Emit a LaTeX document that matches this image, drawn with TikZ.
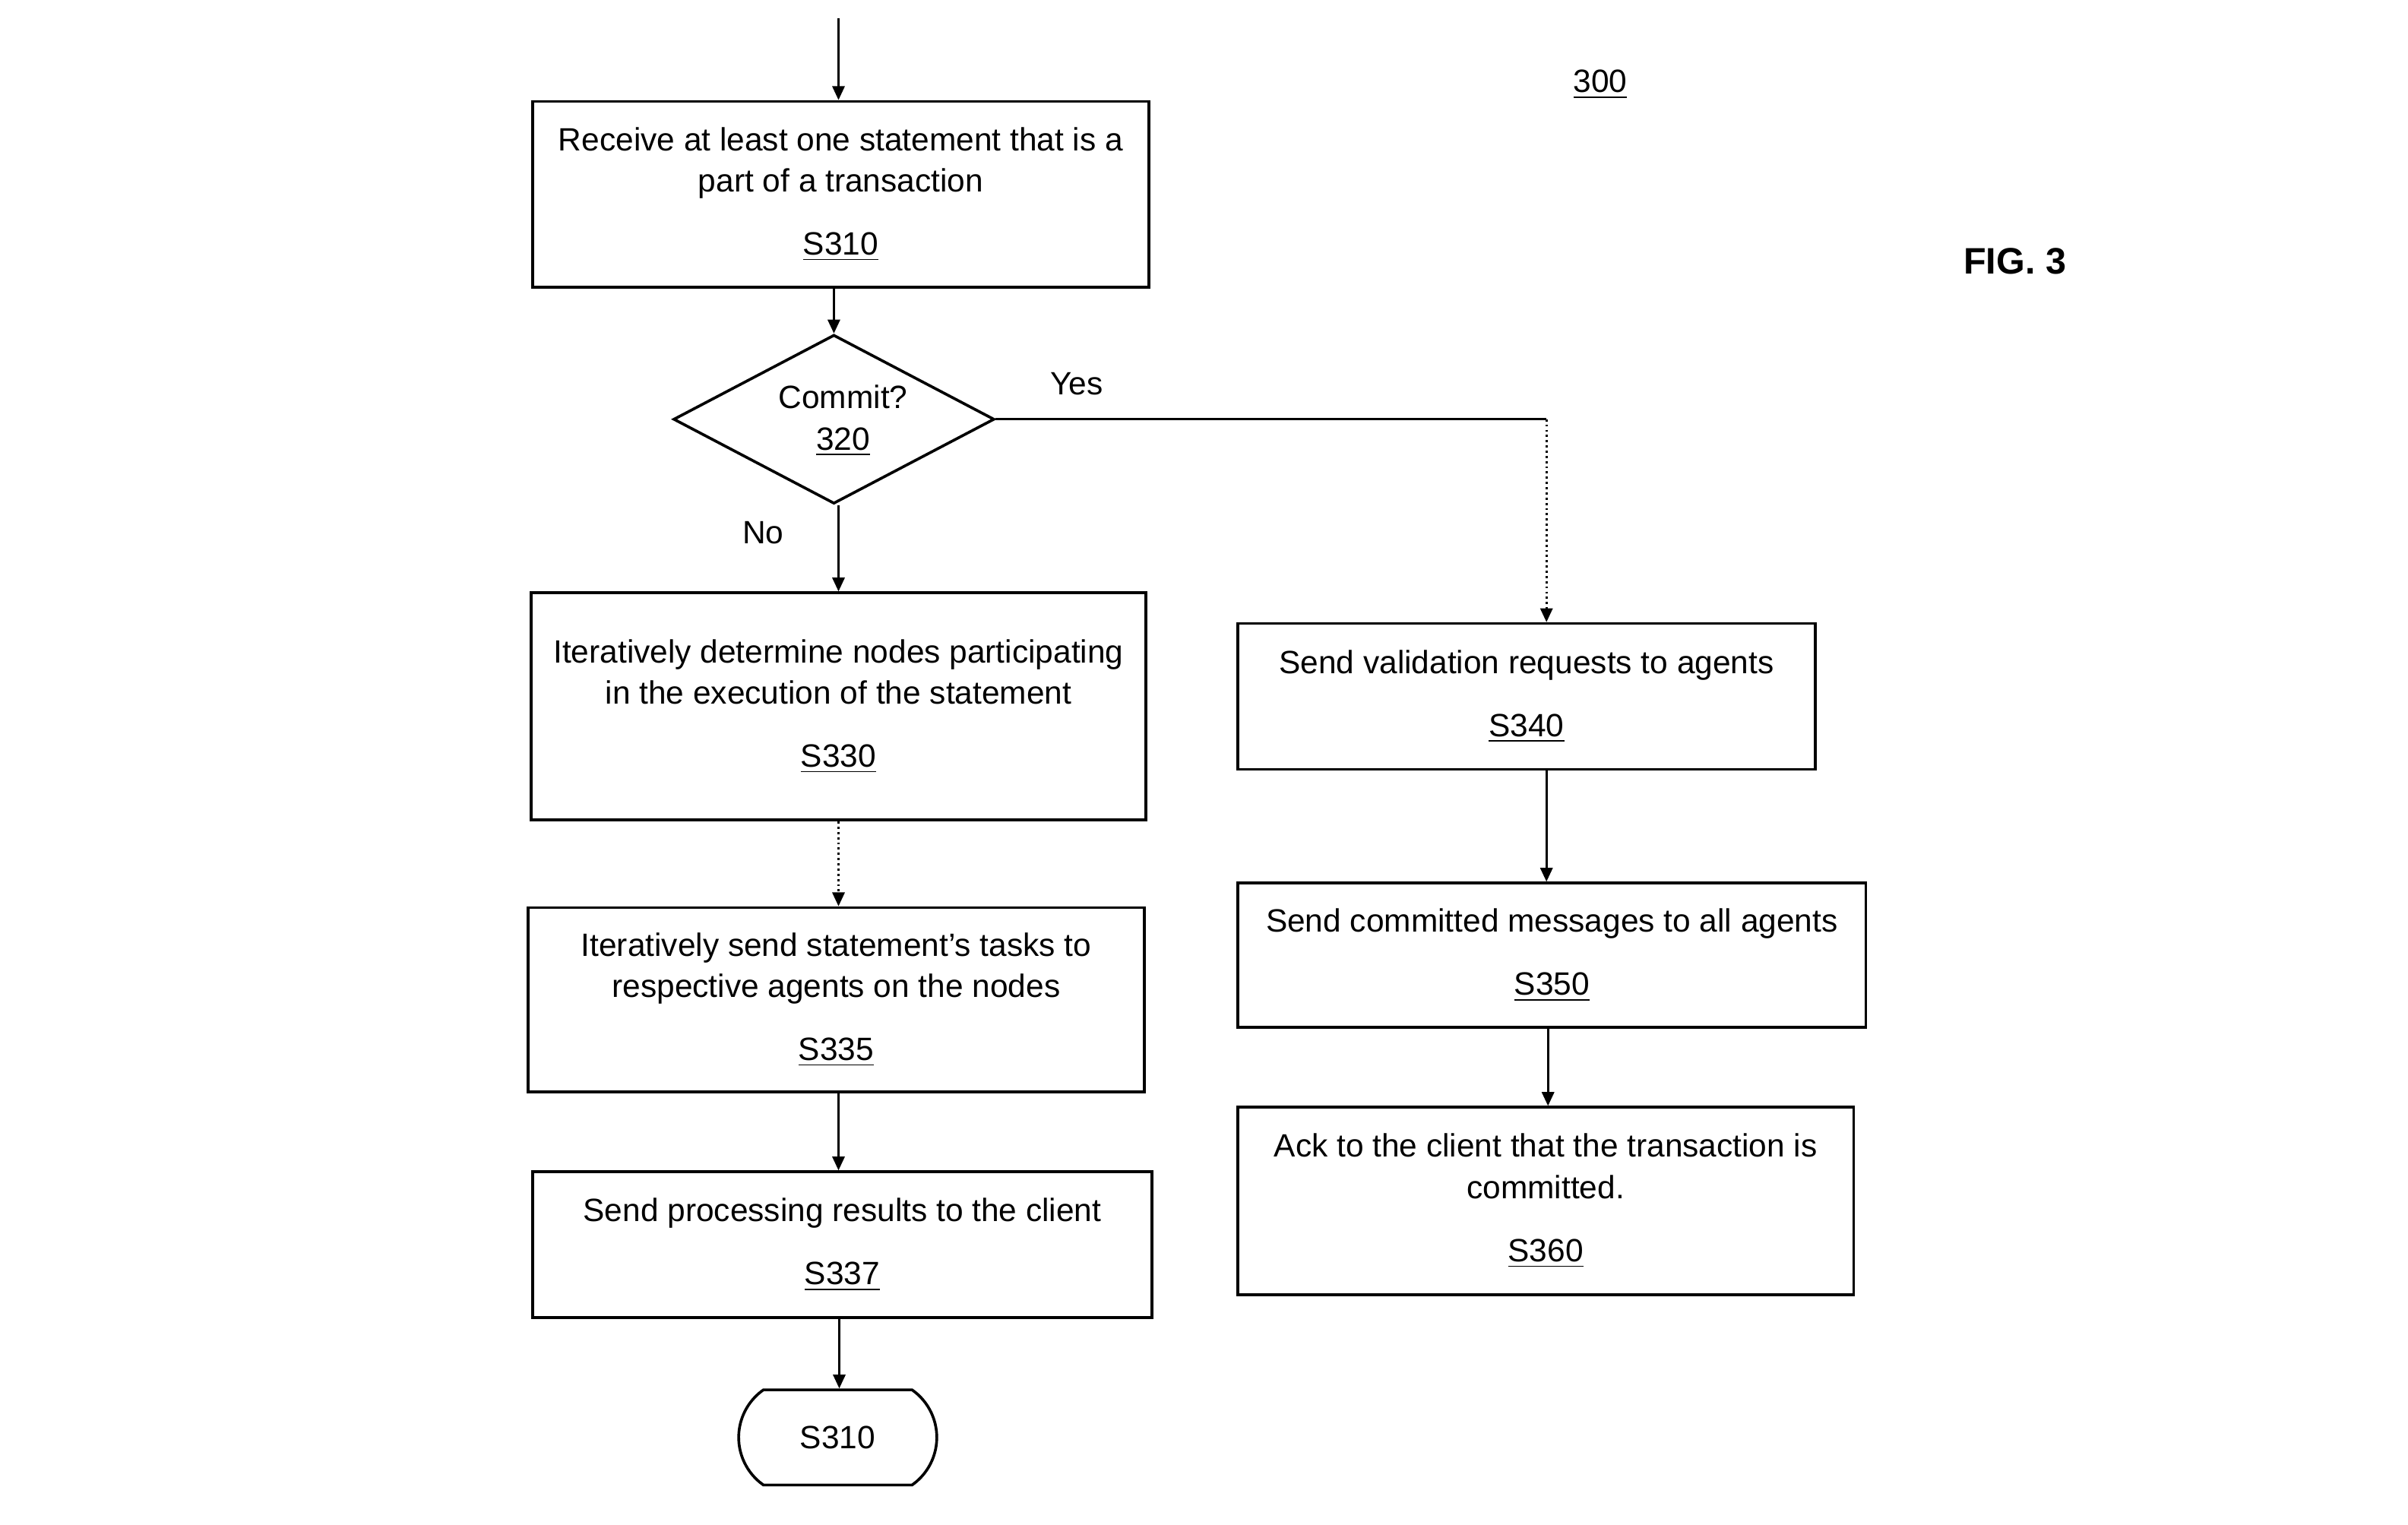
\documentclass[tikz,border=0pt]{standalone}
\usepackage{fontspec}
\setmainfont{Liberation Sans}
\usetikzlibrary{arrows.meta,shapes.geometric,shapes.misc}
\tikzset{
  box/.style={draw, line width=0.9pt, rectangle, inner sep=0pt, align=center,
    font=\fontsize{10.5}{13.5}\selectfont},
  lbl/.style={inner sep=0pt, font=\fontsize{10.5}{13.5}\selectfont},
  arr/.style={draw, line width=0.7pt, -{Triangle[length=4.5pt,width=4pt]}},
  dotarr/.style={arr, densely dotted},
}
\begin{document}
\begin{tikzpicture}[x=0.5pt,y=-0.5pt]
\useasboundingbox (0,0) rectangle (1568,993);
% nodes
\node[box, minimum width=200.5pt, minimum height=60.5pt] (b310) at (547.5,126.5)
  {Receive at least one statement that is a\\ part of a transaction\\[7pt] \underline{S310}};
\node[draw, line width=0.9pt, diamond, aspect=1.9, minimum width=104.5pt, minimum height=55pt, inner sep=0pt] (d) at (543,273) {};
\node[lbl, align=center] (dt) at (549,274) {Commit?\\ \underline{320}};
\node[box, minimum width=200pt, minimum height=74pt] (b330) at (546,460)
  {Iteratively determine nodes participating\\ in the execution of the statement\\[7pt] \underline{S330}};
\node[box, minimum width=200.5pt, minimum height=60pt] (b335) at (544.5,651)
  {Iteratively send statement's tasks to\\ respective agents on the nodes\\[7pt] \underline{S335}};
\node[box, minimum width=201.5pt, minimum height=47.5pt] (b337) at (548.5,810.5)
  {Send processing results to the client\\[7pt] \underline{S337}};
\node[draw, line width=0.9pt, rounded rectangle, rounded rectangle arc length=110,
  minimum width=64.5pt, minimum height=31pt, inner sep=0pt, lbl] (term) at (545.5,936) {S310};
\node[box, minimum width=188pt, minimum height=47.5pt] (b340) at (994,453.5)
  {Send validation requests to agents\\[7pt] \underline{S340}};
\node[box, minimum width=204.5pt, minimum height=47pt] (b350) at (1010.5,622)
  {Send committed messages to all agents\\[7pt] \underline{S350}};
\node[box, minimum width=200.5pt, minimum height=61pt] (b360) at (1006.5,782)
  {Ack to the client that the transaction is\\ committed.\\[7pt] \underline{S360}};
\node[lbl] (yes) at (701,250) {Yes};
\node[lbl] (no) at (497,347) {No};
\node[lbl] (ref) at (1042,55) {\underline{300}};
\node[inner sep=0pt, font=\fontsize{12}{14}\selectfont\bfseries] (fig) at (1312,170) {FIG. 3};
% coordinates
\coordinate (start) at (546,12);
\coordinate (yc) at (1007,273);
% connectors
\draw[arr] (start) -- (start |- b310.north);
\draw[arr] (d.north |- b310.south) -- (d.north);
\draw[arr] ([xshift=1.5pt]d.south) -- ([xshift=1.5pt]d.south |- b330.north);
\draw[line width=0.7pt] (d.east) -- (yc);
\draw[dotarr] (yc) -- (yc |- b340.north);
\draw[dotarr] (b330.south) -- (b330.south |- b335.north);
\draw[arr] ([xshift=0.75pt]b335.south) -- ([xshift=0.75pt]b335.south |- b337.north);
\draw[arr] ([xshift=-1pt]b337.south) -- ([xshift=-1pt]b337.south |- term.north);
\draw[arr] (yc |- b340.south) -- (yc |- b350.north);
\draw[arr] ([xshift=0.5pt]yc |- b350.south) -- ([xshift=0.5pt]yc |- b360.north);
\end{tikzpicture}
\end{document}
